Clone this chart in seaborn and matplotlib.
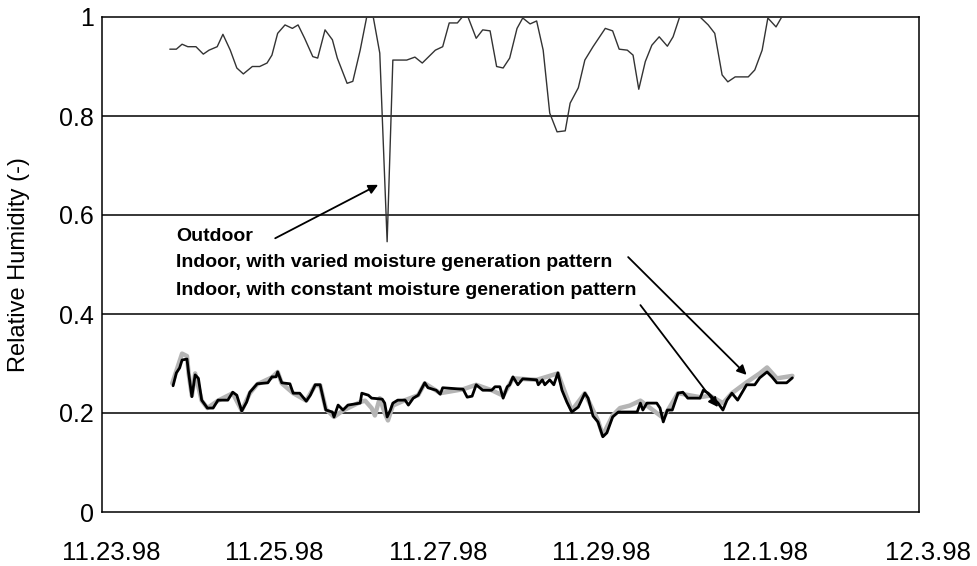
import numpy as np
import pandas as pd
import matplotlib
matplotlib.use("Agg")
import matplotlib.pyplot as plt
import matplotlib.transforms as mtransforms
import seaborn as sns

# days since 11.23.98
out_x = [0.83, 0.91, 0.98, 1.05, 1.15, 1.24, 1.31, 1.41, 1.48, 1.57, 1.65, 1.73, 1.84, 1.93, 2.02,
         2.08, 2.15, 2.24, 2.33, 2.40, 2.48, 2.58, 2.64, 2.73, 2.82, 2.88, 3.00, 3.07, 3.16, 3.24,
         3.32, 3.40, 3.49, 3.56, 3.73, 3.83, 3.92, 4.08, 4.17, 4.25, 4.35, 4.41, 4.48, 4.58, 4.66,
         4.75, 4.83, 4.91, 4.99, 5.08, 5.15, 5.24, 5.32, 5.40, 5.48, 5.57, 5.67, 5.73, 5.83, 5.91,
         6.01, 6.16, 6.25, 6.33, 6.43, 6.50, 6.57, 6.65, 6.73, 6.82, 6.92, 6.99, 7.07, 7.32, 7.42,
         7.50, 7.59, 7.66, 7.75, 7.91, 7.99, 8.08, 8.15, 8.25, 8.32]
out_rh = [0.935, 0.935, 0.945, 0.94, 0.94, 0.925, 0.933, 0.94, 0.965, 0.933, 0.897, 0.885, 0.9, 0.9, 0.907,
          0.923, 0.967, 0.984, 0.977, 0.984, 0.957, 0.92, 0.917, 0.974, 0.954, 0.917, 0.866, 0.87, 0.933, 1.0,
          1.0, 0.927, 0.546, 0.913, 0.913, 0.919, 0.907, 0.933, 0.94, 0.988, 0.988, 1.0, 1.0, 0.957, 0.974,
          0.972, 0.9, 0.897, 0.917, 0.977, 0.998, 0.986, 0.992, 0.933, 0.806, 0.768, 0.77, 0.826, 0.857, 0.913,
          0.94, 0.977, 0.972, 0.935, 0.933, 0.923, 0.854, 0.91, 0.943, 0.96, 0.941, 0.96, 1.0, 1.0, 0.984,
          0.967, 0.883, 0.869, 0.879, 0.879, 0.893, 0.933, 0.998, 0.98, 1.0]

# indoor, varied moisture generation (grey)
var_x = [0.86, 0.92, 0.98, 1.04, 1.06, 1.10, 1.14, 1.22, 1.29, 1.42, 1.60, 1.71, 1.81, 1.90, 2.08,
         2.15, 2.20, 2.34, 2.50, 2.61, 2.67, 2.74, 2.84, 2.95, 3.16, 3.22, 3.30, 3.34, 3.40, 3.46,
         3.50, 3.56, 3.71, 3.87, 3.95, 4.14, 4.42, 4.58, 4.77, 4.91, 5.03, 5.32, 5.58, 5.75, 5.91,
         6.07, 6.13, 6.25, 6.34, 6.46, 6.59, 6.87, 7.05, 7.32, 7.44, 7.60, 7.71, 7.89, 8.05, 8.14,
         8.26, 8.45]
var_rh = [0.26, 0.29, 0.32, 0.315, 0.28, 0.235, 0.28, 0.225, 0.21, 0.225, 0.24, 0.205, 0.24, 0.258, 0.272,
          0.283, 0.26, 0.24, 0.225, 0.256, 0.256, 0.208, 0.192, 0.205, 0.222, 0.225, 0.21, 0.195, 0.23, 0.2,
          0.185, 0.215, 0.226, 0.236, 0.26, 0.24, 0.248, 0.257, 0.246, 0.235, 0.27, 0.267, 0.28, 0.205, 0.24,
          0.185, 0.155, 0.195, 0.21, 0.215, 0.225, 0.19, 0.24, 0.232, 0.235, 0.22, 0.24, 0.262, 0.28, 0.292,
          0.27, 0.275]

# indoor, constant moisture generation (black)
con_x = [0.87, 0.91, 0.95, 0.98, 1.04, 1.06, 1.10, 1.14, 1.18, 1.22, 1.29, 1.36, 1.42, 1.54, 1.60,
         1.65, 1.71, 1.77, 1.81, 1.90, 2.03, 2.08, 2.13, 2.15, 2.20, 2.30, 2.34, 2.42, 2.50, 2.55,
         2.61, 2.67, 2.74, 2.82, 2.84, 2.89, 2.95, 3.01, 3.16, 3.18, 3.26, 3.30, 3.43, 3.46, 3.49,
         3.53, 3.56, 3.62, 3.71, 3.75, 3.81, 3.87, 3.95, 3.99, 4.09, 4.14, 4.17, 4.42, 4.47, 4.53,
         4.58, 4.66, 4.77, 4.81, 4.87, 4.91, 4.96, 4.99, 5.03, 5.09, 5.15, 5.32, 5.34, 5.39, 5.42,
         5.48, 5.53, 5.58, 5.63, 5.69, 5.75, 5.83, 5.91, 5.95, 6.01, 6.07, 6.13, 6.18, 6.25, 6.32,
         6.55, 6.59, 6.62, 6.67, 6.79, 6.83, 6.87, 6.92, 6.98, 7.05, 7.11, 7.17, 7.32, 7.36, 7.42,
         7.48, 7.54, 7.60, 7.65, 7.71, 7.78, 7.89, 7.99, 8.05, 8.14, 8.20, 8.26, 8.38, 8.45]
con_rh = [0.255, 0.281, 0.291, 0.307, 0.309, 0.281, 0.233, 0.277, 0.27, 0.226, 0.21, 0.21, 0.226, 0.226, 0.242,
          0.236, 0.204, 0.222, 0.242, 0.259, 0.261, 0.273, 0.273, 0.283, 0.261, 0.259, 0.24, 0.24, 0.224, 0.236,
          0.257, 0.257, 0.206, 0.202, 0.192, 0.216, 0.206, 0.216, 0.22, 0.24, 0.236, 0.23, 0.228, 0.22, 0.192,
          0.206, 0.22, 0.226, 0.226, 0.216, 0.23, 0.236, 0.261, 0.251, 0.246, 0.238, 0.251, 0.248, 0.232, 0.234,
          0.257, 0.246, 0.246, 0.253, 0.253, 0.23, 0.253, 0.257, 0.273, 0.257, 0.269, 0.267, 0.257, 0.267, 0.257,
          0.267, 0.257, 0.281, 0.246, 0.222, 0.202, 0.212, 0.24, 0.23, 0.194, 0.182, 0.152, 0.16, 0.192, 0.202,
          0.202, 0.22, 0.206, 0.22, 0.22, 0.21, 0.182, 0.206, 0.206, 0.24, 0.242, 0.23, 0.23, 0.246, 0.24,
          0.23, 0.22, 0.206, 0.226, 0.24, 0.226, 0.257, 0.257, 0.271, 0.283, 0.273, 0.261, 0.261, 0.271]

tick_days = [0, 2, 4, 6, 8, 10]
tick_labels = ["11.23.98", "11.25.98", "11.27.98", "11.29.98", "12.1.98", "12.3.98"]
y_ticks = [0, 0.2, 0.4, 0.6, 0.8, 1]
y_tick_labels = ["0", "0.2", "0.4", "0.6", "0.8", "1"]

sns.set_style("white")
plt.rcParams['font.family'] = ['Liberation Sans', 'DejaVu Sans']
plt.rcParams['text.color'] = 'black'
plt.rcParams['axes.labelcolor'] = 'black'
plt.rcParams['xtick.color'] = 'black'
plt.rcParams['ytick.color'] = 'black'

fig = plt.figure(figsize=(9.78, 5.66), dpi=100)
ax = fig.add_axes([102/978, 1 - 512/566, 817/978, 495/566])

df_out = pd.DataFrame({"day": out_x, "rh": out_rh})
df_var = pd.DataFrame({"day": var_x, "rh": var_rh})
df_con = pd.DataFrame({"day": con_x, "rh": con_rh})

for yv in y_ticks[1:-1]:
    ax.axhline(yv, color="black", lw=1.1, zorder=1)

sns.lineplot(data=df_out, x="day", y="rh", ax=ax, color="#333333", lw=1.0,
             estimator=None, sort=False, zorder=3)
sns.lineplot(data=df_var, x="day", y="rh", ax=ax, color="#b5b5b5", lw=3.2,
             estimator=None, sort=False, zorder=3)
sns.lineplot(data=df_con, x="day", y="rh", ax=ax, color="black", lw=2.0,
             estimator=None, sort=False, zorder=4)

ax.set_xlim(0, 10)
ax.set_ylim(0, 1)
ax.set_xticks(tick_days)
ax.set_xticklabels(tick_labels)
ax.set_yticks(y_ticks)
ax.set_yticklabels(y_tick_labels)
ax.tick_params(axis="x", length=0, pad=21, labelsize=18.5)
ax.tick_params(axis="y", length=0, pad=6, labelsize=18)
offset = mtransforms.ScaledTranslation(0.09, 0, fig.dpi_scale_trans)
for lab in ax.get_xticklabels():
    lab.set_transform(lab.get_transform() + offset)

ax.set_xlabel("")
ax.set_ylabel("Relative Humidity (-)", fontsize=17)
ax.yaxis.set_label_coords(-0.088, 0.5)

for s in ax.spines.values():
    s.set_visible(True)
    s.set_color("black")
    s.set_linewidth(1.1)

# annotations
txt = dict(fontsize=14, fontweight="bold", va="center", ha="left", zorder=5)
ax.text(0.906, 0.556, "Outdoor", **txt)
ax.text(0.906, 0.505, "Indoor, with varied moisture generation pattern", **txt)
ax.text(0.906, 0.448, "Indoor, with constant moisture generation pattern", **txt)

arrow = dict(arrowstyle="-|>", color="black", lw=1.3, mutation_scale=14, shrinkA=0, shrinkB=0)
ax.annotate("", xy=(3.38, 0.661), xytext=(2.12, 0.553), arrowprops=arrow, zorder=6)
ax.annotate("", xy=(7.89, 0.277), xytext=(6.44, 0.515), arrowprops=arrow, zorder=6)
ax.annotate("", xy=(7.54, 0.212), xytext=(6.59, 0.418), arrowprops=arrow, zorder=6)

fig.savefig("out.png", dpi=100)
